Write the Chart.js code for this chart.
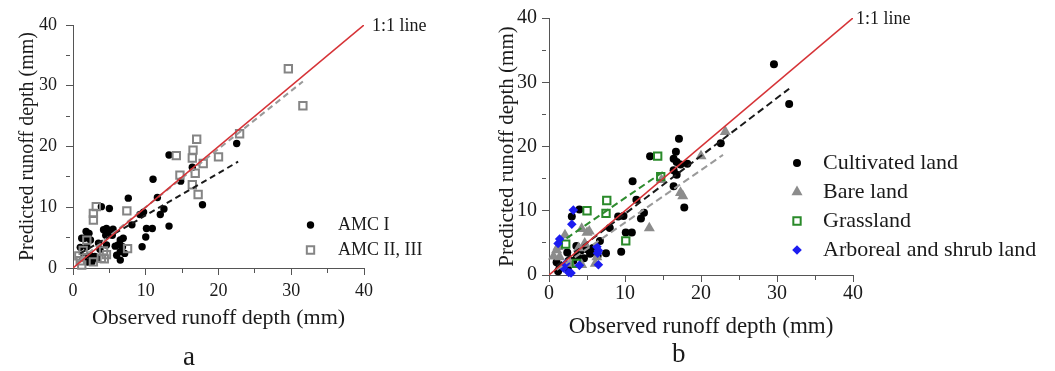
<!DOCTYPE html>
<html lang="en">
<head>
  <meta charset="UTF-8" />
  <title>Observed vs predicted runoff depth</title>
  <script src="https://cdn.jsdelivr.net/npm/chart.js"></script>
  <style>
    body { margin: 0; background: #fff; width: 1055px; height: 371px; position: relative; overflow: hidden; }
    .panel { position: absolute; top: 0; }
    #chartA { left: 0; }
    #chartB { left: 480px; }
    .tag { position: absolute; font-family: 'Liberation Serif', serif; font-size: 27px; line-height: 1; color: #1a1a1a; }
  </style>
</head>
<body>

  <canvas id="chartA" class="panel" width="520" height="371"></canvas>
  <canvas id="chartB" class="panel" width="575" height="371"></canvas>
  <div class="tag" style="left:183px; top:343px;">a</div>
  <div class="tag" style="left:672px; top:340px;">b</div>

  <script>
    // ---- panel a: antecedent moisture condition ----
    const amc1X = [22.5, 13.2, 11.0, 14.8, 7.6, 11.6, 17.8, 12.5, 12.0, 9.7, 9.2, 13.2, 10.1, 10.9, 10.0, 9.5, 8.1, 3.9, 5.0, 16.4,
                   4.2, 4.6, 5.2, 5.5, 4.5, 5.4, 1.8, 2.2, 1.6, 2.4, 1.9, 3.5, 3.7, 2.3, 3.0, 1.4, 2.6, 1.0, 1.2,
                   6.5, 6.9, 6.2, 6.8, 6.5, 7.1, 6.5, 6.0, 2.0, 3.3, 4.6, 5.8];
    const amc1Y = [20.5, 18.6, 14.6, 14.3, 11.5, 11.6, 10.4, 9.7, 8.8, 9.2, 8.8, 6.9, 6.5, 6.5, 5.1, 3.5, 7.1, 10.1, 9.8, 16.6,
                   6.3, 6.5, 6.1, 6.4, 5.4, 5.4, 6.0, 5.7, 4.9, 4.6, 3.5, 4.1, 3.1, 2.1, 1.9, 1.6, 1.0, 3.4, 4.9,
                   4.6, 4.9, 3.8, 3.5, 2.7, 2.4, 1.3, 2.1, 1.0, 1.6, 3.8, 3.6];
    const amc23X = [29.6, 31.6, 22.9, 17.0, 16.5, 14.2, 16.4, 20.0, 17.9, 14.7, 16.8, 16.4, 17.2, 7.4, 3.2, 2.8, 2.8, 7.5,
                    1.9, 1.4, 0.8, 4.2, 4.6, 4.3, 2.8, 1.2, 3.9, 1.0];
    const amc23Y = [32.8, 26.7, 22.1, 21.2, 19.4, 18.5, 18.1, 18.3, 17.2, 15.3, 15.6, 13.7, 12.1, 9.4, 10.1, 9.0, 7.9, 3.2,
                    4.6, 2.9, 2.0, 2.8, 2.2, 1.5, 1.0, 0.5, 1.6, 1.2];
    const fitAmc1X = [1.0, 22.7];
    const fitAmc1Y = [2.4, 17.5];
    const fitAmc23X = [1.0, 31.6];
    const fitAmc23Y = [1.4, 30.7];

    // ---- panel b: land use ----
    const cultX = [29.6, 31.6, 22.6, 17.1, 16.7, 13.3, 16.4, 16.8, 17.3, 18.2, 16.4, 16.8, 16.4, 17.8, 11.0, 11.5, 12.5, 12.1,
                   9.1, 9.8, 10.1, 10.9, 9.5, 8.0, 6.7, 7.5, 4.0, 3.0, 3.6, 4.2, 5.0, 5.8, 4.6, 3.7, 5.4, 1.0, 1.4, 2.2,
                   1.2, 2.5, 6.4, 3.2, 2.4];
    const cultY = [32.8, 26.6, 20.5, 21.2, 19.2, 18.5, 18.1, 17.6, 17.2, 17.3, 16.3, 15.6, 13.8, 10.5, 14.6, 11.7, 9.7, 8.8,
                   9.1, 9.2, 6.6, 6.6, 3.6, 7.3, 5.3, 3.4, 10.2, 9.1, 4.5, 3.8, 4.0, 4.2, 2.6, 2.9, 3.3, 2.0, 1.2, 1.5,
                   0.6, 0.9, 3.0, 2.2, 3.5];
    const bareX = [23.2, 20.0, 17.3, 17.6, 14.8, 13.2, 2.1, 5.0, 5.3, 4.3, 1.0, 1.4, 1.2, 3.9, 4.7, 6.3, 6.1, 4.3, 2.8, 0.6];
    const bareY = [22.3, 18.5, 12.8, 12.3, 14.8, 7.3, 6.2, 6.6, 6.8, 7.2, 3.9, 2.8, 4.4, 4.2, 4.9, 2.8, 1.8, 1.6, 1.8, 2.9];
    const grassX = [14.3, 14.7, 7.6, 7.5, 5.0, 10.1, 2.2, 3.6];
    const grassY = [18.5, 15.3, 11.6, 9.6, 10.0, 5.3, 4.8, 1.8];
    const arborX = [3.2, 3.0, 1.2, 1.4, 6.3, 6.5, 6.4, 6.5, 4.0, 1.9, 2.6, 2.9, 2.2];
    const arborY = [10.1, 7.9, 4.9, 5.6, 4.4, 3.8, 3.4, 1.6, 1.5, 1.1, 0.4, 0.3, 1.8];
    const fitCultX = [1.0, 31.6];
    const fitCultY = [1.4, 29.0];
    const fitBareX = [1.0, 22.9];
    const fitBareY = [0.8, 18.7];
    const fitGrassX = [2.3, 15.3];
    const fitGrassY = [5.7, 16.3];

    const oneToOne = [0, 40];
    const axisMin = 0, axisMax = 40, tickStep = 5, labelStep = 10;

    const serif = "'Liberation Serif', 'Times New Roman', serif";
    const ink = '#1a1a1a';
    const axisColor = '#555';

    const pts = (xs, ys) => xs.map((x, i) => ({ x, y: ys[i] }));

    function lineSet(xs, ys, color, dash, width, order) {
      return {
        data: pts(xs, ys), showLine: true, borderColor: color, borderWidth: width,
        borderDash: dash, pointRadius: 0, fill: false, order
      };
    }

    function pointSet(label, xs, ys, style, radius, fillColor, edgeColor, edgeWidth, order) {
      return {
        legendText: label, data: pts(xs, ys), pointStyle: style, pointRadius: radius,
        backgroundColor: fillColor, borderColor: edgeColor, borderWidth: edgeWidth,
        pointBackgroundColor: fillColor, pointBorderColor: edgeColor, pointBorderWidth: edgeWidth,
        clip: false, order
      };
    }

    // legend drawn with the same point shapes the datasets use
    const markerLegend = {
      id: 'markerLegend',
      afterDraw(chart, args, opts) {
        const ctx = chart.ctx;
        ctx.save();
        ctx.textBaseline = 'middle';
        ctx.font = opts.fontSize + 'px ' + serif;
        let y = opts.y;
        chart.data.datasets.forEach(ds => {
          if (!ds.legendText) return;
          ctx.fillStyle = ds.backgroundColor;
          ctx.strokeStyle = ds.borderColor;
          ctx.lineWidth = ds.borderWidth;
          const r = ds.pointRadius;
          if (Chart.helpers && Chart.helpers.drawPoint) {
            Chart.helpers.drawPoint(ctx, { pointStyle: ds.pointStyle, radius: r, rotation: 0, borderWidth: ds.borderWidth }, opts.x, y);
          } else {
            ctx.beginPath(); ctx.arc(opts.x, y, r, 0, Math.PI * 2); ctx.fill();
          }
          ctx.fillStyle = ink;
          ctx.fillText(ds.legendText, opts.textX, y);
          y += opts.gap;
        });
        ctx.restore();
      }
    };

    const lineLabel = {
      id: 'lineLabel',
      afterDatasetsDraw(chart, args, opts) {
        const { x, y } = chart.scales;
        const ctx = chart.ctx;
        ctx.save();
        ctx.font = opts.fontSize + 'px ' + serif;
        ctx.fillStyle = ink;
        ctx.textBaseline = 'middle';
        ctx.fillText('1:1 line', x.getPixelForValue(oneToOne[1]) + opts.dx, y.getPixelForValue(oneToOne[1]) + opts.dy);
        ctx.restore();
      }
    };

    const isMinor = c => c.tick && c.tick.value % labelStep !== 0;

    function axisOpts(o) {
      return {
        type: 'linear', min: axisMin, max: axisMax, position: o.position,
        ticks: {
          stepSize: tickStep, autoSkip: false, maxRotation: 0, color: ink, padding: o.tickPad,
          font: { family: serif, size: o.tickSize },
          callback: v => (v % labelStep === 0 ? v : '')
        },
        grid: {
          drawOnChartArea: false, drawTicks: true, tickLength: 7, tickColor: axisColor, tickWidth: 1,
          // minor ticks come out shorter: only the first dash segment is drawn
          tickBorderDash: c => (isMinor(c) ? [4, 20] : [])
        },
        border: { display: true, color: axisColor, width: 1 },
        title: {
          display: true, text: o.title, color: ink,
          font: { family: serif, size: o.titleSize }, padding: o.titlePad
        },
        afterFit: s => {
          if (o.position === 'left') s.width = o.box; else s.height = o.box;
        }
      };
    }

    function makeChart(id, datasets, cfg) {
      return new Chart(document.getElementById(id), {
        type: 'scatter',
        data: { datasets },
        options: {
          responsive: false, animation: false, events: [],
          layout: { padding: cfg.padding },
          scales: {
            x: axisOpts(cfg.x),
            y: axisOpts(cfg.y)
          },
          plugins: {
            legend: { display: false },
            tooltip: { enabled: false },
            markerLegend: cfg.legend,
            lineLabel: cfg.label
          }
        },
        plugins: [markerLegend, lineLabel]
      });
    }

    // ---- panel a ----
    makeChart('chartA', [
      lineSet(oneToOne, oneToOne, '#d63337', [], 1.6, 0),
      lineSet(fitAmc1X, fitAmc1Y, '#1a1a1a', [6, 4], 2, 1),
      lineSet(fitAmc23X, fitAmc23Y, '#9a9a9a', [6, 4], 2, 1),
      pointSet('AMC I', amc1X, amc1Y, 'circle', 3.7, '#000', '#000', 0, 3),
      pointSet('AMC II, III', amc23X, amc23Y, 'rect', 5.2, 'rgba(255,255,255,0)', '#858585', 2, 2)
    ], {
      padding: { left: 0, right: 156, top: 25, bottom: 0 },
      x: { position: 'bottom', box: 103, tickSize: 18, tickPad: 5, title: 'Observed runoff depth (mm)', titleSize: 22, titlePad: { top: 0, bottom: 40 } },
      y: { position: 'left', box: 73, tickSize: 18, tickPad: 9, title: 'Predicted runoff depth (mm)', titleSize: 20, titlePad: { top: 16, bottom: 0 } },
      legend: { x: 310.5, y: 225, gap: 25, textX: 338, fontSize: 18 },
      label: { dx: 8, dy: 1, fontSize: 18 }
    });

    // ---- panel b ----
    makeChart('chartB', [
      lineSet(oneToOne, oneToOne, '#d63337', [], 1.6, 0),
      lineSet(fitCultX, fitCultY, '#1a1a1a', [7, 4], 2, 1),
      lineSet(fitBareX, fitBareY, '#9a9a9a', [7, 4], 2, 1),
      lineSet(fitGrassX, fitGrassY, '#2e8b2e', [7, 4], 2, 1),
      pointSet('Cultivated land', cultX, cultY, 'circle', 4, '#000', '#000', 0, 5),
      pointSet('Bare land', bareX, bareY, 'triangle', 6.4, '#8c8c8c', '#8c8c8c', 0, 4),
      pointSet('Grassland', grassX, grassY, 'rect', 5.2, 'rgba(255,255,255,0)', '#2a8a2a', 2, 3),
      pointSet('Arboreal and shrub land', arborX, arborY, 'rectRot', 4.8, '#1c1cf0', '#1c1cf0', 0, 2)
    ], {
      padding: { left: 0, right: 202, top: 18, bottom: 0 },
      x: { position: 'bottom', box: 96, tickSize: 20, tickPad: 0, title: 'Observed runoff depth (mm)', titleSize: 23, titlePad: { top: 0, bottom: 30 } },
      y: { position: 'left', box: 69, tickSize: 20, tickPad: 5, title: 'Predicted runoff depth (mm)', titleSize: 21, titlePad: { top: 15, bottom: 0 } },
      legend: { x: 317, y: 163, gap: 29, textX: 343, fontSize: 22 },
      label: { dx: 3, dy: 1, fontSize: 18 }
    });
  </script>
</body>
</html>
